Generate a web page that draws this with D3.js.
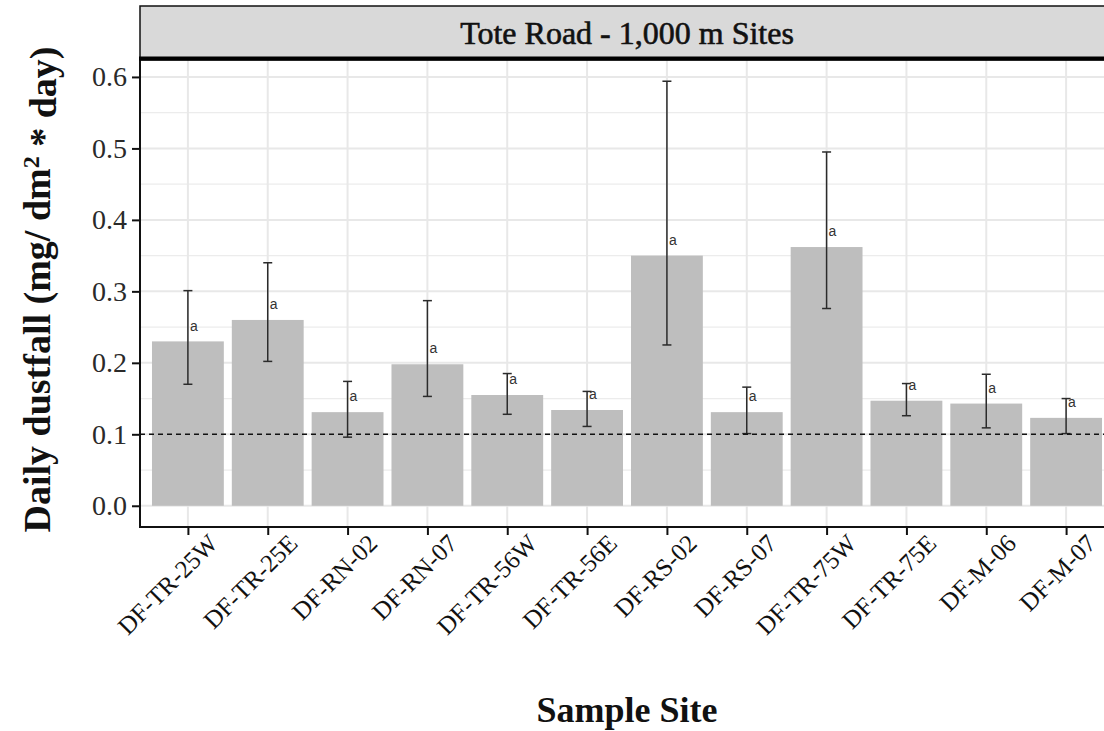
<!DOCTYPE html>
<html>
<head>
<meta charset="utf-8">
<script src="https://cdn.jsdelivr.net/npm/d3@7"></script>
<style>
  html, body { margin: 0; padding: 0; background: #fff; }
  svg { display: block; }
</style>
</head>
<body>
<svg id="chart" width="1104" height="731"></svg>
<script>
// Dustfall per sample site (mg / dm^2 / day): mean with error-bar bounds
const sites = ["DF-TR-25W", "DF-TR-25E", "DF-RN-02", "DF-RN-07", "DF-TR-56W", "DF-TR-56E",
               "DF-RS-02", "DF-RS-07", "DF-TR-75W", "DF-TR-75E", "DF-M-06", "DF-M-07"];
const meanValues = [0.230, 0.260, 0.131, 0.198, 0.155, 0.134, 0.350, 0.131, 0.362, 0.147, 0.143, 0.123];
const lowerValues = [0.170, 0.202, 0.096, 0.153, 0.128, 0.111, 0.225, 0.101, 0.276, 0.126, 0.109, 0.101];
const upperValues = [0.301, 0.340, 0.174, 0.287, 0.185, 0.160, 0.594, 0.166, 0.495, 0.171, 0.184, 0.150];
const groupLetters = ["a", "a", "a", "a", "a", "a", "a", "a", "a", "a", "a", "a"];
const yTicks = [0.0, 0.1, 0.2, 0.3, 0.4, 0.5, 0.6];
const yMinorTicks = [0.05, 0.15, 0.25, 0.35, 0.45, 0.55];
const guideline = 0.1;
const panelTitle = "Tote Road - 1,000 m Sites";

const data = sites.map((s, i) => ({
  site: s, mean: meanValues[i], lo: lowerValues[i], hi: upperValues[i], letter: groupLetters[i]
}));

const svg = d3.select("#chart");
const serif = "'Liberation Serif', 'DejaVu Serif', serif";

// panel geometry
const panel = { left: 140, right: 1114, top: 60, bottom: 527 };

// discrete x scale with 0.6 band padding on each side, bars 90% of a band
const step = (panel.right - panel.left) / (sites.length - 1 + 1.2);
const x = d3.scalePoint().domain(sites)
  .range([panel.left + 0.6 * step, panel.right - 0.6 * step]);
const barW = step * 0.9;

// continuous y with 5% expansion around [0, max upper]
const yMax = d3.max(upperValues);
const pad = yMax * 0.05;
const y = d3.scaleLinear().domain([-pad, yMax + pad]).range([panel.bottom, panel.top]);

svg.append("defs").append("clipPath").attr("id", "panelClip")
  .append("rect").attr("x", panel.left).attr("y", panel.top)
  .attr("width", panel.right - panel.left).attr("height", panel.bottom - panel.top);

const g = svg.append("g").attr("clip-path", "url(#panelClip)");

// grid
g.selectAll(".ymin").data(yMinorTicks).join("line")
  .attr("x1", panel.left).attr("x2", panel.right)
  .attr("y1", d => y(d)).attr("y2", d => y(d))
  .attr("stroke", "#ececec").attr("stroke-width", 1.2);
g.selectAll(".ymaj").data(yTicks).join("line")
  .attr("x1", panel.left).attr("x2", panel.right)
  .attr("y1", d => y(d)).attr("y2", d => y(d))
  .attr("stroke", "#e8e8e8").attr("stroke-width", 2);
g.selectAll(".xmaj").data(sites).join("line")
  .attr("x1", d => x(d)).attr("x2", d => x(d))
  .attr("y1", panel.top).attr("y2", panel.bottom)
  .attr("stroke", "#e8e8e8").attr("stroke-width", 2);

// bars
g.selectAll(".bar").data(data).join("rect")
  .attr("x", d => x(d.site) - barW / 2)
  .attr("width", barW)
  .attr("y", d => y(d.mean))
  .attr("height", d => y(0) - y(d.mean))
  .attr("fill", "#bebebe");

// error bars
const capW = 9;
const eb = g.selectAll(".eb").data(data).join("g").attr("stroke", "#2b2b2b").attr("stroke-width", 1.5);
eb.append("line").attr("x1", d => x(d.site)).attr("x2", d => x(d.site))
  .attr("y1", d => y(d.lo)).attr("y2", d => y(d.hi));
eb.append("line").attr("x1", d => x(d.site) - capW / 2).attr("x2", d => x(d.site) + capW / 2)
  .attr("y1", d => y(d.lo)).attr("y2", d => y(d.lo));
eb.append("line").attr("x1", d => x(d.site) - capW / 2).attr("x2", d => x(d.site) + capW / 2)
  .attr("y1", d => y(d.hi)).attr("y2", d => y(d.hi));

// group letters just above each mean, right of the error bar
g.selectAll(".letter").data(data).join("text")
  .attr("x", d => x(d.site) + 2)
  .attr("y", d => y(d.mean + 0.022))
  .attr("dy", "0.35em")
  .attr("font-family", "'Liberation Sans', Arial, sans-serif")
  .attr("font-size", 14)
  .attr("fill", "#333")
  .text(d => d.letter);

// reference line
g.append("line")
  .attr("x1", panel.left).attr("x2", panel.right)
  .attr("y1", y(guideline)).attr("y2", y(guideline))
  .attr("stroke", "#111").attr("stroke-width", 1.5).attr("stroke-dasharray", "5,4");

// axes
const yAxis = svg.append("g").attr("transform", `translate(${panel.left},0)`)
  .call(d3.axisLeft(y).tickValues(yTicks).tickFormat(d3.format(".1f")).tickSize(8).tickPadding(5));
const xAxis = svg.append("g").attr("transform", `translate(0,${panel.bottom})`)
  .call(d3.axisBottom(x).tickSize(8).tickPadding(4));
[yAxis, xAxis].forEach(a => {
  a.select(".domain").remove();
  a.selectAll(".tick line").attr("stroke", "#111").attr("stroke-width", 2);
});
yAxis.selectAll("text").attr("font-family", serif).attr("font-size", 28).attr("fill", "#2a2a2a");
xAxis.selectAll("text").attr("font-family", serif).attr("font-size", 25).attr("fill", "#111")
  .attr("text-anchor", "end")
  .attr("transform", "translate(10,-3) rotate(-45)")
  .attr("dy", "0.7em");

// axis lines
svg.append("line").attr("x1", panel.left).attr("x2", panel.left)
  .attr("y1", panel.top).attr("y2", panel.bottom + 1)
  .attr("stroke", "#111").attr("stroke-width", 2);
svg.append("line").attr("x1", panel.left - 1).attr("x2", panel.right)
  .attr("y1", panel.bottom).attr("y2", panel.bottom)
  .attr("stroke", "#111").attr("stroke-width", 2);

// facet strip
svg.append("rect").attr("x", panel.left).attr("y", 6)
  .attr("width", panel.right - panel.left).attr("height", panel.top - 6)
  .attr("fill", "#d9d9d9").attr("stroke", "#111").attr("stroke-width", 1.5);
svg.append("line").attr("x1", panel.left - 1).attr("x2", panel.right)
  .attr("y1", panel.top - 1.5).attr("y2", panel.top - 1.5)
  .attr("stroke", "#000").attr("stroke-width", 4);
svg.append("text")
  .attr("x", (panel.left + panel.right) / 2).attr("y", 33)
  .attr("dy", "0.35em").attr("text-anchor", "middle")
  .attr("font-family", serif).attr("font-size", 32).attr("fill", "#111")
  .attr("stroke", "#111").attr("stroke-width", 0.6)
  .text(panelTitle);

// axis titles
svg.append("text")
  .attr("x", (panel.left + panel.right) / 2).attr("y", 722)
  .attr("text-anchor", "middle")
  .attr("font-family", serif).attr("font-weight", "bold").attr("font-size", 36).attr("fill", "#111")
  .text("Sample Site");
const yt = svg.append("text")
  .attr("transform", `translate(50,${(panel.top + panel.bottom) / 2 - 4}) rotate(-90)`)
  .attr("text-anchor", "middle")
  .attr("font-family", serif).attr("font-weight", "bold").attr("font-size", 38).attr("fill", "#111");
yt.append("tspan").text("Daily dustfall (mg/ dm");
yt.append("tspan").attr("dy", "-0.45em").attr("font-size", 24).text("2");
yt.append("tspan").attr("dy", "0.45em").text(" * day)");
</script>
</body>
</html>
